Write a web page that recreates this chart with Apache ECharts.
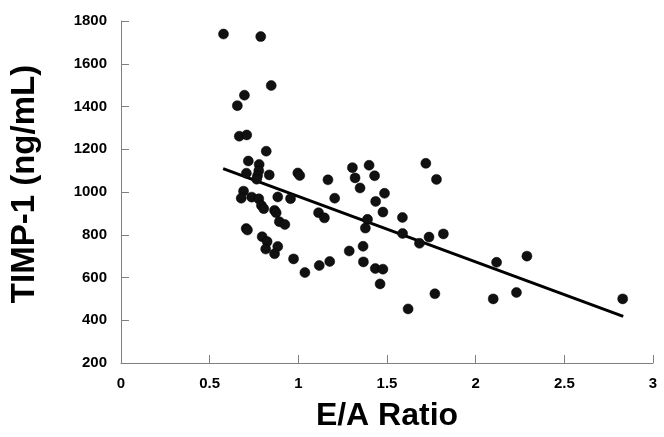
<!DOCTYPE html>
<html>
<head>
<meta charset="utf-8">
<script src="https://cdn.jsdelivr.net/npm/echarts@6/dist/echarts.min.js"></script>
<style>html,body{margin:0;padding:0;background:#fff}#c{width:664px;height:437px}</style>
</head>
<body>
<div id="c"></div>
<script>
var xTicks = ['0','0.5','1','1.5','2','2.5','3'];
var yTicks = ['200','400','600','800','1000','1200','1400','1600','1800'];
var eaRatio = [0.578,0.788,0.847,0.696,0.656,0.667,0.709,0.819,0.718,0.779,0.707,0.777,0.770,0.765,0.836,0.997,1.008,0.691,0.678,0.737,0.777,0.884,0.956,0.792,0.805,0.866,0.875,0.893,0.924,0.706,0.713,0.796,0.824,0.816,0.884,0.866,0.973,1.037,1.167,1.205,1.114,1.147,1.118,1.177,1.287,1.305,1.320,1.399,1.430,1.348,1.486,1.436,1.477,1.390,1.378,1.365,1.367,1.434,1.477,1.461,1.619,1.587,1.588,1.683,1.737,1.818,1.719,1.779,1.770,2.118,2.289,2.099,2.230,2.829];
var timp1 = [1739,1727,1498,1453,1404,1261,1267,1191,1145,1129,1088,1099,1076,1060,1080,1089,1077,1004,971,976,968,977,969,937,922,914,903,861,848,829,822,791,768,733,745,711,687,623,1057,971,903,879,656,675,724,1114,1066,1125,1076,1019,994,956,906,872,831,746,673,642,639,570,453,881,806,760,789,804,1134,1059,524,671,700,500,530,500];
var fitX = [0.576, 2.832];
var fitY = [1109, 418];

var pts = eaRatio.map(function(x,i){return [x, timp1[i]];});
var fit = fitX.map(function(x,i){return [x, fitY[i]];});
var axisGray = '#808080';
var chart = echarts.init(document.getElementById('c'), null, {renderer:'canvas'});
chart.setOption({
  animation:false,
  backgroundColor:'#fff',
  grid:{left:110,right:11,top:21,bottom:69,containLabel:false},
  xAxis:{
    type:'value',min:0,max:3,interval:0.5,
    name:'E/A Ratio',nameLocation:'middle',nameGap:37,
    nameTextStyle:{fontFamily:'Liberation Sans, Arial',fontWeight:'bold',fontSize:32,color:'#000'},
    axisLine:{show:true,lineStyle:{color:axisGray,width:1}},
    axisTick:{show:true,inside:true,length:8,lineStyle:{color:axisGray}},
    splitLine:{show:false},
    axisLabel:{margin:13,fontFamily:'Liberation Sans, Arial',fontWeight:'bold',fontSize:15,color:'#000',
      formatter:function(v){return xTicks[Math.round(v/0.5)];}}
  },
  yAxis:{
    type:'value',min:200,max:1800,interval:200,
    name:'TIMP-1 (ng/mL)',nameLocation:'middle',nameGap:80,nameRotate:90,
    nameTextStyle:{fontFamily:'Liberation Sans, Arial',fontWeight:'bold',fontSize:33,color:'#000',padding:[0,0,0,16]},
    axisLine:{show:true,lineStyle:{color:axisGray,width:1}},
    axisTick:{show:true,inside:true,length:8,lineStyle:{color:axisGray}},
    splitLine:{show:false},
    axisLabel:{margin:14,fontFamily:'Liberation Sans, Arial',fontWeight:'bold',fontSize:15,color:'#000',
      formatter:function(v){return yTicks[Math.round((v-200)/200)];}}
  },
  series:[
    {type:'line',data:fit,symbol:'none',lineStyle:{color:'#000',width:3},z:2},
    {type:'scatter',data:pts,symbol:'circle',symbolSize:10,itemStyle:{color:'#111',borderColor:'#000',borderWidth:0.5,opacity:1},z:3}
  ]
});
</script>
</body>
</html>
